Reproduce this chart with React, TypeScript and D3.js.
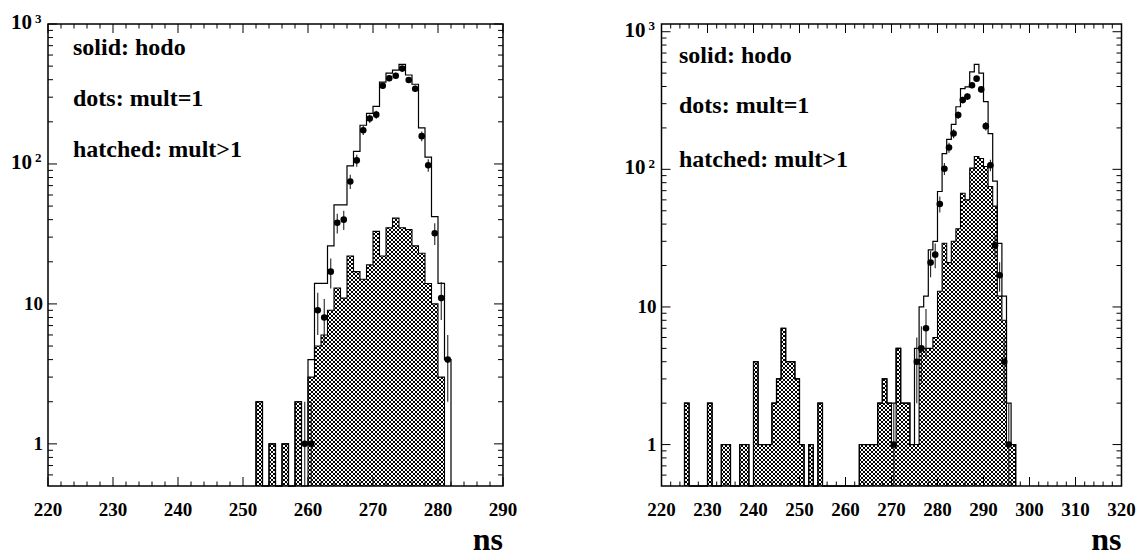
import React from "react";
import * as d3 from "d3";

const FONT_STYLE: React.CSSProperties = {
  fontFamily: '"Liberation Serif", "DejaVu Serif", "Times New Roman", serif',
  fontWeight: 700,
};

// ---------- left spectrum: 220–290 ns, 1 ns bins (value = lower bin edge + index) ----------
const leftHodoFirst = 252;
const leftHodo = [2, 0, 1, 0, 1, 0, 2, 1, 4, 14, 14, 26, 51, 51, 97, 123, 189, 230, 258, 384, 445, 468, 515, 432, 371, 181, 112, 42, 14, 4];
const leftHatchFirst = 252;
const leftHatch = [2, 0, 1, 0, 1, 0, 2, 0, 3, 5, 6, 9, 13, 11, 22, 17, 15, 19, 33, 22, 35, 41, 35, 34, 26, 23, 14, 10, 3];
const leftDotFirst = 259;
const leftDots = [1, 1, 9, 8, 17, 38, 40, 75, 106, 174, 211, 225, 362, 410, 427, 480, 398, 345, 158, 98, 32, 11, 4];

// ---------- right spectrum: 220–320 ns ----------
const rightHatchFirst = 225;
const rightHatch = [
  2, 0, 0, 0, 0, 2, 0, 0, 1, 1, 0, 0, 1, 1, 0, 4, 1, 1, 1, 2, 3, 7, 4, 4, 3, 1, 0, 1, 0, 2,
  0, 0, 0, 0, 0, 0, 0, 0,
  1, 1, 1, 1, 2, 3, 2, 1, 5, 2, 2, 1, 1, 5, 5, 5, 6, 13, 29, 21, 30, 37, 67, 60, 102, 124, 120, 105, 75, 54, 12, 8, 1, 1,
];
const rightHodoFirst = 225;
const rightHodo = [
  2, 0, 0, 0, 0, 2, 0, 0, 1, 1, 0, 0, 1, 1, 0, 4, 1, 1, 1, 2, 3, 7, 4, 4, 3, 1, 0, 1, 0, 2,
  0, 0, 0, 0, 0, 0, 0, 0,
  1, 1, 1, 1, 2, 3, 2, 2, 5, 2, 2, 1, 5, 10, 12, 26, 30, 69, 130, 165, 212, 285, 386, 398, 510, 580, 501, 311, 182, 82, 29, 12, 2, 1,
];
const rightDotFirst = 270;
const rightDots = [1, 0, 0, 0, 0, 4, 5, 7, 21, 24, 56, 101, 144, 182, 248, 319, 338, 408, 456, 381, 206, 107, 28, 17, 4, 1];

const xTickLabelsLeft = [220, 230, 240, 250, 260, 270, 280, 290];
const xTickLabelsRight = [220, 230, 240, 250, 260, 270, 280, 290, 300, 310, 320];
const legendLines = ["solid: hodo", "dots: mult=1", "hatched: mult>1"];

const Y_TOP = 24;
const Y_BOT = 486;

type PanelProps = {
  x0: number;
  x1: number;
  xMin: number;
  xMax: number;
  yMax: number;
  xLabels: number[];
  hodoFirst: number;
  hodo: number[];
  hatchFirst: number;
  hatch: number[];
  dotFirst: number;
  dots: number[];
  textX: number;
  textY: number[];
};

function stepPath(first: number, counts: number[], x: (v: number) => number, y: (v: number) => number) {
  let d = `M${x(first)},${Y_BOT}`;
  counts.forEach((c, i) => {
    const yy = c > 0 ? y(c) : Y_BOT;
    d += `L${x(first + i)},${yy}L${x(first + i + 1)},${yy}`;
  });
  d += `L${x(first + counts.length)},${Y_BOT}`;
  return d;
}

function Panel(p: PanelProps) {
  const x = d3.scaleLinear().domain([p.xMin, p.xMax]).range([p.x0, p.x1]);
  const y = d3.scaleLog().domain([0.5, p.yMax]).range([Y_BOT, Y_TOP]);
  const yc = (v: number) => Math.max(Y_TOP, Math.min(Y_BOT, y(Math.max(v, 0.5))));

  const xTicks = d3.range(p.xMin, p.xMax + 0.001, 2);
  const yTicks: { v: number; major: boolean }[] = [];
  [0.1, 1, 10, 100, 1000].forEach((dec) => {
    for (let k = 1; k <= 9; k++) {
      const v = k * dec;
      if (v > 0.5 + 1e-9 && v <= p.yMax) yTicks.push({ v, major: k === 1 });
    }
  });

  return (
    <g>
      {/* mult>1 : cross-hatched histogram */}
      <path d={stepPath(p.hatchFirst, p.hatch, x, y)} fill="url(#xhatch)" stroke="#000" strokeWidth={1.1} />
      {/* hodo : solid outline histogram */}
      <path d={stepPath(p.hodoFirst, p.hodo, x, y)} fill="none" stroke="#000" strokeWidth={1.2} />
      {/* mult=1 : points with sqrt(N) errors */}
      {p.dots.map((n, i) => {
        if (n <= 0) return null;
        const cx = x(p.dotFirst + i + 0.5);
        const e = Math.sqrt(n);
        return (
          <g key={i}>
            <line x1={cx} x2={cx} y1={yc(n + e)} y2={n - e > 0 ? yc(n - e) : Y_BOT} stroke="#222" strokeWidth={1.1} />
            <circle cx={cx} cy={y(n)} r={3.3} fill="#000" />
          </g>
        );
      })}
      {/* frame */}
      <rect x={p.x0} y={Y_TOP} width={p.x1 - p.x0} height={Y_BOT - Y_TOP} fill="none" stroke="#000" strokeWidth={1.5} />
      {xTicks.map((t) => {
        const major = Math.abs(t % 10) < 1e-6;
        const len = major ? 9 : 4.5;
        const xx = x(t);
        return (
          <g key={t}>
            <line x1={xx} x2={xx} y1={Y_BOT} y2={Y_BOT - len} stroke="#000" strokeWidth={1} />
            <line x1={xx} x2={xx} y1={Y_TOP} y2={Y_TOP + len} stroke="#000" strokeWidth={1} />
          </g>
        );
      })}
      {yTicks.map((t, i) => {
        const len = t.major ? 9 : 5;
        const yy = y(t.v);
        return (
          <g key={i}>
            <line x1={p.x0} x2={p.x0 + len} y1={yy} y2={yy} stroke="#000" strokeWidth={1} />
            <line x1={p.x1} x2={p.x1 - len} y1={yy} y2={yy} stroke="#000" strokeWidth={1} />
          </g>
        );
      })}
      {/* axis labels */}
      <g style={FONT_STYLE}>
        {p.xLabels.map((v) => (
          <text key={v} x={x(v)} y={516} textAnchor="middle" fontSize={19}>
            {v}
          </text>
        ))}
        {[1, 10].map((v) => (
          <text key={v} x={p.x0 - 5} y={y(v) + 6.5} textAnchor="end" fontSize={19}>
            {v}
          </text>
        ))}
        {[2, 3].map((e) =>
          Math.pow(10, e) <= p.yMax ? (
            <g key={e}>
              <text x={p.x0 - 16} y={y(Math.pow(10, e)) + 5} textAnchor="end" fontSize={21}>
                10
              </text>
              <text x={p.x0 - 13} y={y(Math.pow(10, e)) - 1.5} fontSize={13}>
                {e}
              </text>
            </g>
          ) : null
        )}
        <text x={p.x1} y={550} textAnchor="end" fontSize={32}>
          ns
        </text>
        {legendLines.map((s, i) => (
          <text key={s} x={p.textX} y={p.textY[i]} fontSize={24}>
            {s}
          </text>
        ))}
      </g>
    </g>
  );
}

export default function App() {
  return (
    <svg
      width={1141}
      height={557}
      style={{ position: "absolute", left: 0, top: 0, background: "#fff" }}
      xmlns="http://www.w3.org/2000/svg"
    >
      <defs>
        <pattern id="xhatch" patternUnits="userSpaceOnUse" width={4} height={4}>
          <rect width={4} height={4} fill="#fff" />
          <path d="M-1,1L1,-1M0,4L4,0M3,5L5,3M-1,3L1,5M0,0L4,4M3,-1L5,1" stroke="#000" strokeWidth={1} />
        </pattern>
      </defs>
      <rect width={1141} height={557} fill="#fff" />
      <Panel
        x0={48}
        x1={503}
        xMin={220}
        xMax={290}
        yMax={1000}
        xLabels={xTickLabelsLeft}
        hodoFirst={leftHodoFirst}
        hodo={leftHodo}
        hatchFirst={leftHatchFirst}
        hatch={leftHatch}
        dotFirst={leftDotFirst}
        dots={leftDots}
        textX={73}
        textY={[54.5, 106, 157]}
      />
      <Panel
        x0={661.5}
        x1={1121.5}
        xMin={220}
        xMax={320}
        yMax={1138}
        xLabels={xTickLabelsRight}
        hodoFirst={rightHodoFirst}
        hodo={rightHodo}
        hatchFirst={rightHatchFirst}
        hatch={rightHatch}
        dotFirst={rightDotFirst}
        dots={rightDots}
        textX={679}
        textY={[63, 113, 167]}
      />
    </svg>
  );
}
